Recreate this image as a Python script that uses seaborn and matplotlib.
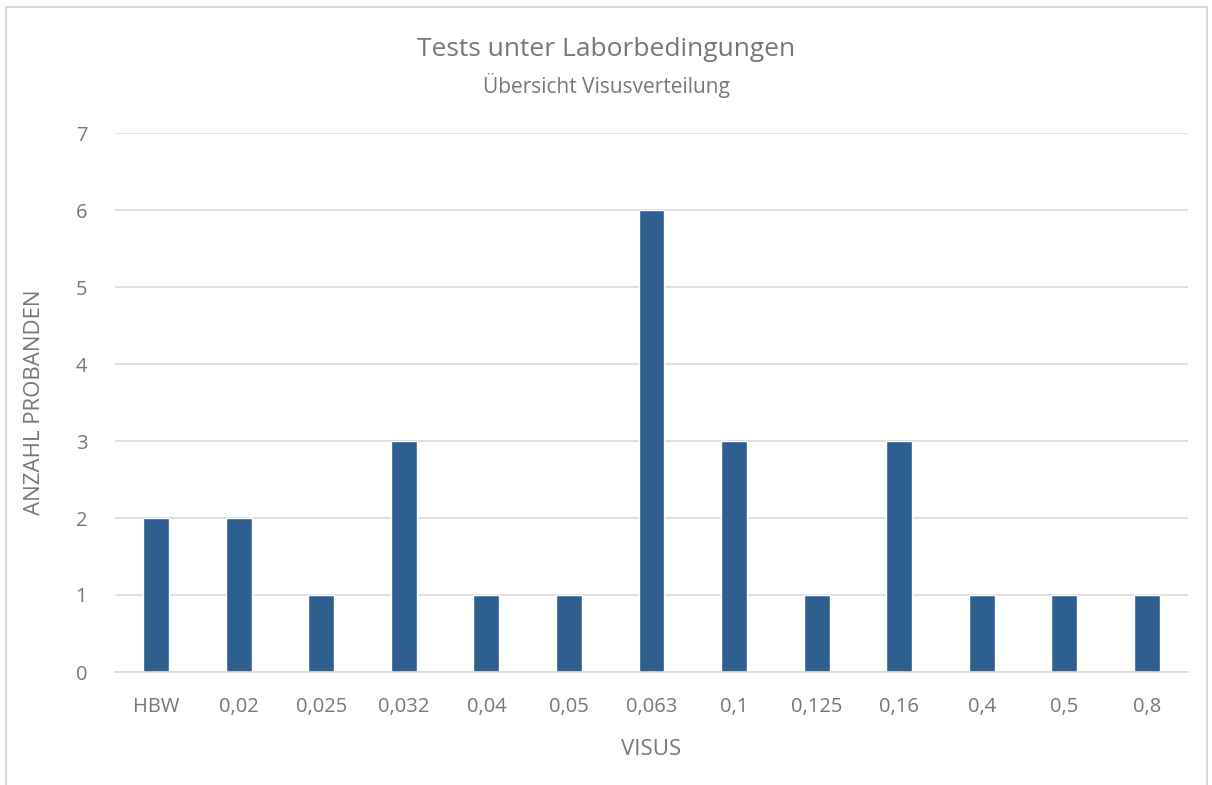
import matplotlib
matplotlib.use("Agg")
import matplotlib.pyplot as plt
import seaborn as sns
import pandas as pd
from matplotlib.patches import Rectangle

visus = ["HBW", "0,02", "0,025", "0,032", "0,04", "0,05", "0,063",
         "0,1", "0,125", "0,16", "0,4", "0,5", "0,8"]
anzahl = [2, 2, 1, 3, 1, 1, 6, 3, 1, 3, 1, 1, 1]
y_ticks = [0, 1, 2, 3, 4, 5, 6, 7]

df = pd.DataFrame({"Visus": visus, "Anzahl": anzahl})

sns.set_theme(style="white")
plt.rcParams["font.family"] = ["Open Sans", "DejaVu Sans"]

text_col = "#767676"
grid_col = "#d9d9d9"
bar_col = "#2f5f8f"

fig = plt.figure(figsize=(12.12, 7.85), dpi=100)
fig.patch.set_facecolor("white")
fig.add_artist(Rectangle((6 / 1212, -0.01), 1201 / 1212, 1 - 7 / 785 + 0.01,
                         transform=fig.transFigure, fill=False,
                         edgecolor="#d9d9d9", linewidth=1.5))

ax = fig.add_axes([115 / 1212, 113 / 785, 1073 / 1212, 539 / 785])
sns.barplot(data=df, x="Visus", y="Anzahl", order=visus, color=bar_col,
            saturation=1, width=0.315, ax=ax)

ax.set_ylim(0, 7)
ax.set_xlim(-0.5, len(visus) - 0.5)
ax.set_yticks(y_ticks)
ax.set_yticklabels([str(t) for t in y_ticks])
ax.yaxis.grid(True, color=grid_col, linewidth=1.2)
ax.set_axisbelow(True)
for s in ["top", "right", "left"]:
    ax.spines[s].set_visible(False)
ax.spines["bottom"].set_color(grid_col)
ax.spines["bottom"].set_linewidth(1.2)
ax.tick_params(axis="both", length=0, colors=text_col, labelsize=14.5)
ax.tick_params(axis="x", pad=18)
ax.tick_params(axis="y", pad=20)

ax.set_xlabel("VISUS", color=text_col, fontsize=16, labelpad=16)
ax.set_ylabel("ANZAHL PROBANDEN", color=text_col, fontsize=16, labelpad=22)

fig.text(0.5, 1 - 49 / 785, "Tests unter Laborbedingungen", ha="center",
         va="center", color=text_col, fontsize=19)
fig.text(0.5, 1 - 85 / 785, "Übersicht Visusverteilung", ha="center",
         va="center", color=text_col, fontsize=15)

fig.savefig("out.png", dpi=100)
